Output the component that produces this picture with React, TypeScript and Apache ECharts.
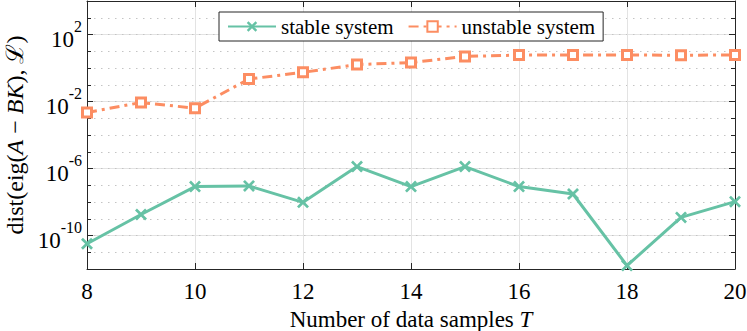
import React, { useEffect, useRef } from "react";
import * as echarts from "echarts";

const samples = [8, 9, 10, 11, 12, 13, 14, 15, 16, 17, 18, 19, 20];
const stableValues = [3.2e-11, 1.8e-9, 8.3e-8, 9.1e-8, 9.5e-9, 1.3e-6, 8.3e-8, 1.3e-6, 8.3e-8, 3.0e-8, 1.6e-12, 1.2e-9, 1.05e-8];
const unstableValues = [2.2e-3, 8.7e-3, 4.0e-3, 0.22, 0.55, 1.6, 2.1, 4.9, 5.9, 6.0, 6.0, 5.8, 6.0];
const majorYTicks = [1e-10, 1e-6, 1e-2, 1e2];
const seriesNames = ["stable system", "unstable system"];

const FONT = "Liberation Serif";
const AXIS_COLOR = "#262626";
const GREEN = "#66c2a5";
const ORANGE = "#fc8d62";
const CROSS =
  "path://M0,1.6 L1.6,0 L5,3.4 L8.4,0 L10,1.6 L6.6,5 L10,8.4 L8.4,10 L5,6.6 L1.6,10 L0,8.4 L3.4,5 Z";

const Y_MIN = 1e-12;
const Y_MAX = 1e4;

function supLabel(v: number) {
  const e = Math.round(Math.log10(v));
  return `{b|10}{s|${e}}`;
}

export default function App() {
  const ref = useRef<HTMLDivElement>(null);
  useEffect(() => {
    if (!ref.current) return;
    const chart = echarts.init(ref.current, undefined, { renderer: "svg" });
    const labelRich = {
      b: { fontFamily: FONT, fontSize: 23, color: "#000", lineHeight: 32, verticalAlign: "bottom" },
      s: { fontFamily: FONT, fontSize: 16, color: "#000", lineHeight: 16, verticalAlign: "top" },
    };
    const baseY = {
      type: "log",
      logBase: 10,
      min: Y_MIN,
      max: Y_MAX,
    };
    chart.setOption({
      animation: false,
      backgroundColor: "#fff",
      grid: { left: 87, right: 12, top: 1, bottom: 62, containLabel: false, outerBoundsMode: "none" },
      legend: {
        left: 219,
        top: 12,
        data: seriesNames,
        backgroundColor: "#fff",
        borderColor: AXIS_COLOR,
        borderWidth: 1,
        borderRadius: 0,
        padding: [4, 8, 4, 8],
        itemGap: 14,
        itemWidth: 48,
        itemHeight: 13,
        formatter: (name: string) => `{n|${name}}`,
        textStyle: {
          fontFamily: FONT,
          fontSize: 21,
          color: "#000",
          rich: { n: { fontFamily: FONT, fontSize: 21, color: "#000" } },
        },
      },
      xAxis: [
        {
          type: "value",
          min: 8,
          max: 20,
          interval: 2,
          position: "bottom",
          axisLine: { show: true, lineStyle: { color: AXIS_COLOR, width: 1 } },
          axisTick: { show: true, inside: true, length: 6, lineStyle: { color: AXIS_COLOR } },
          axisLabel: {
            fontFamily: FONT,
            fontSize: 23,
            color: "#000",
            margin: 11,
            formatter: "{a|{value}}",
            rich: { a: { fontFamily: FONT, fontSize: 23, color: "#000" } },
          },
          splitLine: { show: true, lineStyle: { color: "#e3e3e3", width: 1 } },
          name: "Number of data samples {i|T}",
          nameLocation: "middle",
          nameGap: 31,
          nameTextStyle: {
            fontFamily: FONT,
            fontSize: 23,
            color: "#000",
            rich: { i: { fontFamily: FONT, fontSize: 23, fontStyle: "italic", color: "#000" } },
          },
        },
        {
          type: "value",
          min: 8,
          max: 20,
          interval: 2,
          position: "top",
          axisLine: { show: true, lineStyle: { color: AXIS_COLOR, width: 1 } },
          axisTick: { show: true, inside: true, length: 6, lineStyle: { color: AXIS_COLOR } },
          axisLabel: { show: false },
          splitLine: { show: false },
        },
      ],
      yAxis: [
        {
          ...baseY,
          position: "left",
          axisLine: { show: true, lineStyle: { color: AXIS_COLOR, width: 1 } },
          axisTick: { show: true, inside: true, length: 6, customValues: majorYTicks, lineStyle: { color: AXIS_COLOR } },
          axisLabel: {
            customValues: majorYTicks,
            formatter: (v: number) => supLabel(v),
            margin: 5,
            fontFamily: FONT,
            rich: labelRich,
          },
          splitLine: { show: true, lineStyle: { color: "#e3e3e3", width: 1 } },
          name: "dist(eig({i|A} − {i|BK}), ℒ)",
          nameLocation: "middle",
          nameRotate: 90,
          nameGap: 55,
          nameTextStyle: {
            fontFamily: FONT,
            fontSize: 24,
            color: "#000",
            rich: { i: { fontFamily: FONT, fontSize: 24, fontStyle: "italic", color: "#000" } },
          },
        },
        {
          ...baseY,
          position: "left",
          interval: 1,
          axisLine: { show: false },
          axisTick: { show: true, inside: true, length: 4, lineStyle: { color: AXIS_COLOR } },
          axisLabel: { show: false },
          splitLine: { show: true, lineStyle: { color: "#c4c4c4", width: 1, type: [1.5, 5.5] } },
        },
        {
          ...baseY,
          position: "right",
          axisLine: { show: true, lineStyle: { color: AXIS_COLOR, width: 1 } },
          axisTick: { show: true, inside: true, length: 6, customValues: majorYTicks, lineStyle: { color: AXIS_COLOR } },
          axisLabel: { show: false },
          splitLine: { show: false },
        },
        {
          ...baseY,
          position: "right",
          interval: 1,
          axisLine: { show: false },
          axisTick: { show: true, inside: true, length: 4, lineStyle: { color: AXIS_COLOR } },
          axisLabel: { show: false },
          splitLine: { show: false },
        },
      ],
      series: [
        {
          name: seriesNames[0],
          type: "line",
          xAxisIndex: 0,
          yAxisIndex: 0,
          data: samples.map((t, i) => [t, stableValues[i]]),
          symbol: CROSS,
          symbolSize: 12,
          lineStyle: { color: GREEN, width: 3 },
          itemStyle: { color: GREEN },
          z: 5,
        },
        {
          name: seriesNames[1],
          type: "line",
          xAxisIndex: 0,
          yAxisIndex: 0,
          data: samples.map((t, i) => [t, unstableValues[i]]),
          symbol: "rect",
          symbolSize: 9,
          lineStyle: { color: ORANGE, width: 3, type: [10, 5, 3, 5] },
          itemStyle: { color: "#fff", borderColor: ORANGE, borderWidth: 3 },
          z: 5,
        },
      ],
    });
    return () => chart.dispose();
  }, []);
  return <div ref={ref} style={{ width: 747, height: 331, position: "absolute", left: 0, top: 0 }} />;
}
